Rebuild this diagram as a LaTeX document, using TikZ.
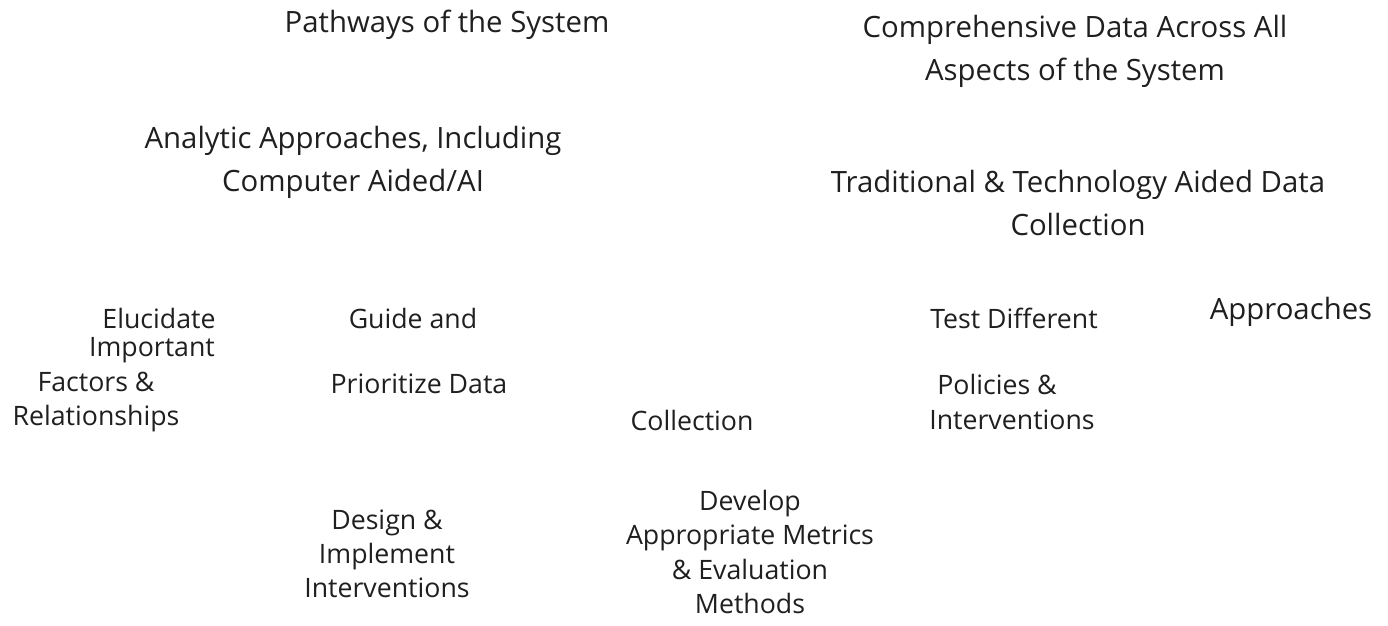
\documentclass[tikz,border=0pt]{standalone}
\usepackage{fontspec}
\setmainfont{Open Sans}
\usepackage{tikz}

\begin{document}
\begin{tikzpicture}[x=0.02cm,y=-0.02cm,
   big label/.style={align=center,inner sep=0pt,text=black!88,font=\fontsize{16.7}{24.5}\selectfont},
   small label/.style={align=center,inner sep=0pt,text=black!88,font=\fontsize{15.2}{19.5}\selectfont}]

  \useasboundingbox (0,0) rectangle (1388,625);

  % top labels
  \node[big label] (pathways) at (447,25) {Pathways of the System};
  \node[big label] (comprehensive) at (1075,51) {Comprehensive Data Across All\\Aspects of the System};
  \node[big label] (analytic) at (353,162) {Analytic Approaches, Including\\Computer Aided/AI};
  \node[big label] (traditional) at (1078,203) {Traditional \& Technology Aided Data\\Collection};

  % middle row
  \node[small label] (elucidate) at (159,318) {Elucidate};
  \node[small label] (important) at (152,350) {Important};
  \node[small label] (factors) at (96,402) {Factors \&\\Relationships};
  \node[small label] (guide) at (413,318) {Guide and};
  \node[small label] (prioritize) at (419,384) {Prioritize Data};
  \node[small label] (collection) at (692,420) {Collection};
  \node[small label] (test) at (1014,318) {Test Different};
  \node[small label] (policies) at (997,384) {Policies \&};
  \node[small label] (interventions) at (1012,420) {Interventions};
  \node[big label] (approaches) at (1291,312) {Approaches};

  % bottom row
  \node[small label] (design) at (387,554) {Design \&\\Implement\\Interventions};
  \node[small label] (develop) at (750,552) {Develop\\Appropriate Metrics\\\& Evaluation\\Methods};
\end{tikzpicture}
\end{document}
